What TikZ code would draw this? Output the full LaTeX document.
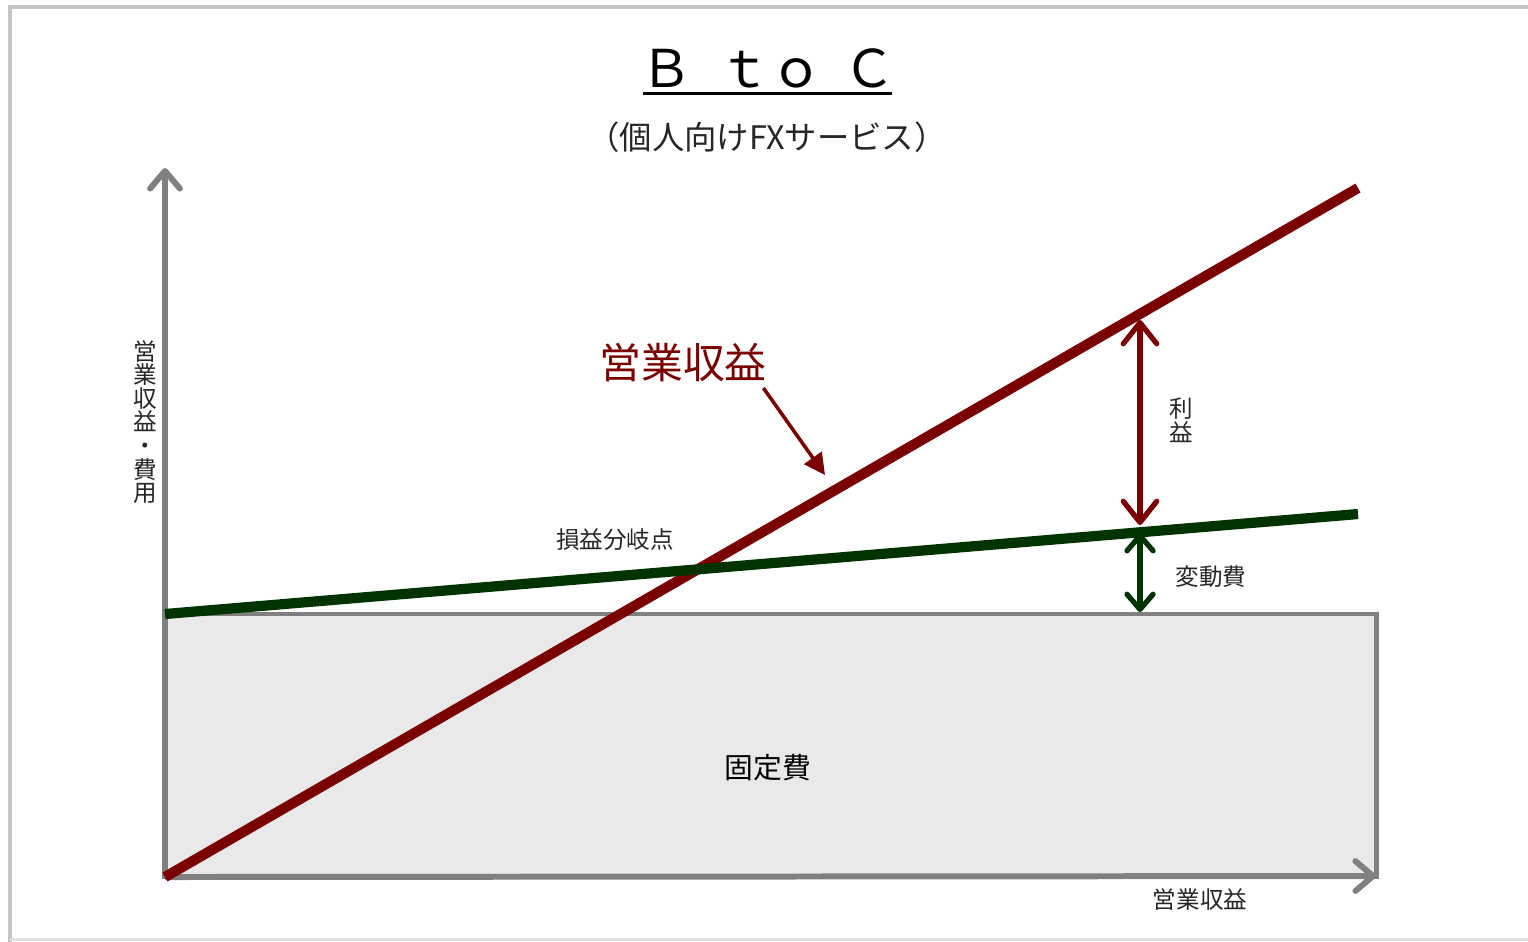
\documentclass[tikz,border=0pt]{standalone}
\usepackage{fontspec}
\newfontfamily\jpfont{Noto Sans CJK JP}
\usepackage{xcolor}
\usetikzlibrary{positioning, arrows.meta}
\definecolor{revred}{RGB}{122,0,0}
\definecolor{vcgreen}{RGB}{0,51,0}
\definecolor{axisgray}{RGB}{128,128,128}
\definecolor{boxgray}{RGB}{233,233,233}
\definecolor{framegray}{RGB}{196,196,196}

\begin{document}
\begin{tikzpicture}[
  x=0.01cm, y=-0.01cm,
  every node/.style={font=\jpfont\fontsize{6.7}{6.7}\selectfont, inner sep=0pt, text=black!85},
  axis/.style={draw=axisgray, line width=1.7pt,
               -{Straight Barb[length=5pt, width=8.5pt, round]}},
  fixbox/.style={draw=axisgray, line width=1.3pt, fill=boxgray,
                 minimum width=12.11cm, minimum height=2.63cm},
  revline/.style={draw=revred, line width=2.9pt},
  vcline/.style={draw=vcgreen, line width=2.9pt},
  profitarrow/.style={draw=revred, line width=1.5pt,
    {Straight Barb[length=6pt, width=9.5pt, round]}-{Straight Barb[length=6pt, width=9.5pt, round]}},
  vcarrow/.style={draw=vcgreen, line width=1.5pt,
    {Straight Barb[length=4.3pt, width=7.4pt, round]}-{Straight Barb[length=4.3pt, width=7.4pt, round]}},
  pointer/.style={draw=revred, line width=1pt, -{Triangle[length=6pt, width=6pt]}}
]
\useasboundingbox (0,0) rectangle (1528,941);

% ---- FRAME ----
\draw[framegray, line width=1.4pt] (1540,7) -- (10,7) -- (10,950);
\draw[framegray!50, line width=1pt] (10,939.5) -- (1540,939.5);

% ---- TITLE ----
\node[font=\jpfont\fontsize{14.8}{16}\selectfont, text=black] (title) at (768,68)
  {Ｂ\hspace{.5em}ｔｏ\hspace{.4em}Ｃ};
\draw[line width=0.9pt] ([shift={(3,5)}]title.south west) -- ([shift={(-4,5)}]title.south east);
\node[font=\jpfont\fontsize{9.2}{10}\selectfont] (subtitle) at (767,137)
  {（個人向けFXサービス）};

% ---- FIXED COST + AXES ----
\node[fixbox] (fix) at (770.5,745.5) {};
\node[font=\jpfont\fontsize{8.2}{9}\selectfont, text=black] (fixlabel) at (768,768) {固定費};

\coordinate (O) at (165,877);
\coordinate (ytop) at (165,168);
\coordinate (xend) at (1376,876);
\draw[axis] (O) -- (ytop);
\draw[axis] (O) -- (xend);

\node (xlabel) at (1200,900) {営業収益};
\node[align=center] (ylabel) at (145,422) {営\\業\\収\\益\\・\\費\\用};

% ---- REVENUE AND VARIABLE COST LINES ----
\coordinate (revstart) at (165,877);
\coordinate (revend) at (1358,188);
\coordinate (vcstart) at (165,614);
\coordinate (vcend) at (1358,514);
\draw[revline] (revstart) -- (revend);
\draw[vcline] (vcstart) -- (vcend);

\node (bep) at (615,540) {損益分岐点};

% Revenue label with pointer
\node[font=\jpfont\fontsize{11.9}{13}\selectfont, text=revred] (revlabel) at (683,363) {営業収益};
\coordinate (revpoint) at (825,475);
\draw[pointer] ([shift={(-4,5)}]revlabel.south east) -- (revpoint);

% ---- PROFIT / VARIABLE COST SPANS ----
\coordinate (prtop) at (1140,320);
\coordinate (prbot) at (1140,525);
\coordinate (vctop) at (1140,533);
\coordinate (vcbot) at (1140,612);
\draw[profitarrow] (prtop) -- (prbot);
\draw[vcarrow] (vctop) -- (vcbot);

\node[align=center] (prlabel) at (1181,420) {利\\益};
\node (vclabel) at (1211,577) {変動費};

\end{tikzpicture}
\end{document}
